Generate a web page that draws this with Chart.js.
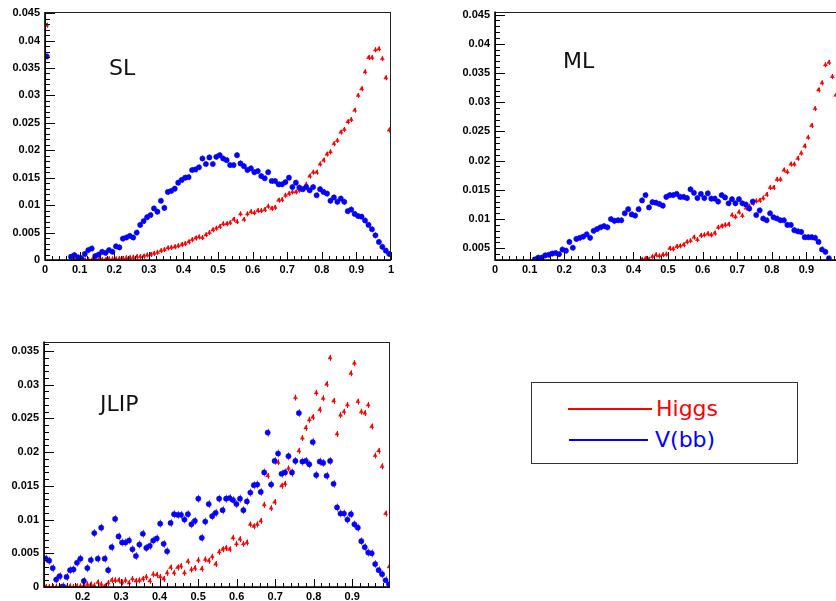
<!DOCTYPE html>
<html>
<head>
<meta charset="utf-8">
<script src="https://cdn.jsdelivr.net/npm/chart.js@4.4.1/dist/chart.umd.min.js"></script>
<style>
html, body { margin: 0; padding: 0; background: #fff; }
body { width: 836px; height: 601px; overflow: hidden; position: relative; }
canvas { position: absolute; }
.lbl { position: absolute; font-family: "DejaVu Sans", sans-serif; font-size: 22px; line-height: 1; color: #111; white-space: nowrap; }
#legend { position: absolute; left: 531px; top: 382px; width: 267px; height: 82px; box-sizing: border-box; border: 1px solid #333; }
#legend .line { position: absolute; height: 2px; }
#legend .txt { position: absolute; font-family: "DejaVu Sans", sans-serif; font-size: 22px; line-height: 1; white-space: nowrap; }
</style>
</head>
<body>
<canvas id="sl" width="400" height="280" style="left:0; top:0"></canvas>
<canvas id="ml" width="400" height="280" style="left:450px; top:0"></canvas>
<canvas id="jlip" width="400" height="271" style="left:0; top:330px"></canvas>

<div class="lbl" style="left:109px; top:57px">SL</div>
<div class="lbl" style="left:563px; top:50px">ML</div>
<div class="lbl" style="left:100px; top:393px">JLIP</div>

<div id="legend">
  <div class="line" style="left:36px; top:25px; width:84px; background:#ff0000"></div>
  <div class="txt" style="left:124px; top:15px; color:#ff0000">Higgs</div>
  <div class="line" style="left:37px; top:56px; width:79px; background:#0000ff"></div>
  <div class="txt" style="left:123px; top:46px; color:#0000ff">V(bb)</div>
</div>

<script>
// ---- SL : 100 bins on [0, 1]
const slXTicks = [0, 0.1, 0.2, 0.3, 0.4, 0.5, 0.6, 0.7, 0.8, 0.9, 1]
const slYTicks = [0, 0.005, 0.01, 0.015, 0.02, 0.025, 0.03, 0.035, 0.04, 0.045]
const slHiggs = [0.0428, null, null, null, null, null, null, null,
    0, 0, 0, 0, 0.0001, 0, 0.0001, 0.0001, 0.0001, 0.0001, 0.0002, 0.0002,
    0.0002, 0.0003, 0.0003, 0.0004, 0.0004, 0.0005, 0.0006, 0.0006, 0.0007, 0.0009,
    0.0010, 0.0012, 0.0014, 0.0017, 0.0019, 0.0022, 0.0023, 0.0024, 0.0026, 0.0028,
    0.0030, 0.0033, 0.0037, 0.0040, 0.0042, 0.0041, 0.0046, 0.0050,
    0.0055, 0.0058, 0.0061, 0.0066, 0.0066, 0.0068, 0.0074, 0.0070, 0.0084, 0.0074,
    0.0084, 0.0088, 0.0086, 0.0090, 0.0090, 0.0092, 0.0098, 0.0094, 0.0096, 0.0109,
    0.0110, 0.0118, 0.0121, 0.0124, 0.0124, 0.0127, 0.0129, 0.0138, 0.0153, 0.0160,
    0.0160, 0.0175, 0.0182, 0.0193, 0.0197, 0.0212, 0.0218, 0.0233, 0.0238, 0.0252,
    0.0256, 0.0273, 0.0300, 0.0312, 0.0343, 0.0369, 0.0369, 0.0383, 0.0385, 0.0367,
    0.0332, 0.0237]
const slVbb = [0.0371, null, null, null, null, null, null,
    0.0006, 0.0009, 0.0005, 0.0003, 0.0011, 0.0018, 0.0021, 0.0007, 0.0010, 0.0015,
    0.0013, 0.0018, 0.0015, 0.0025, 0.0023, 0.0039, 0.0041, 0.0044, 0.0041, 0.0050,
    0.0064, 0.0071, 0.0078, 0.0082, 0.0094, 0.0088, 0.0108, 0.0095, 0.0124, 0.0126,
    0.0130, 0.0141, 0.0146, 0.0150, 0.0151, 0.0164, 0.0165, 0.0169, 0.0185, 0.0175, 0.0187,
    0.0175, 0.0188, 0.0191, 0.0185, 0.0182, 0.0173, 0.0173, 0.0191, 0.0176, 0.0171,
    0.0164, 0.0167, 0.0160, 0.0162, 0.0153, 0.0149, 0.0160, 0.0144, 0.0144, 0.0138,
    0.0138, 0.0142, 0.0150, 0.0133, 0.0141, 0.0132, 0.0129, 0.0133, 0.0127, 0.0133,
    0.0118, 0.0129, 0.0124, 0.0121, 0.0108, 0.0114, 0.0106, 0.0112, 0.0106, 0.0089,
    0.0092, 0.0084, 0.0080, 0.0079, 0.0072, 0.0064, 0.0056, 0.0045, 0.0033, 0.0024,
    0.0017, 0.0011]

// ---- ML : 100 bins on [0, 1], axis starts at 0.003
const mlXTicks = [0, 0.1, 0.2, 0.3, 0.4, 0.5, 0.6, 0.7, 0.8, 0.9]
const mlYTicks = [0.005, 0.01, 0.015, 0.02, 0.025, 0.03, 0.035, 0.04, 0.045]
const mlHiggsFirstBin = 42
const mlHiggs = [0.0031, 0.0033, 0.0031, 0.0036, 0.0039, 0.0037, 0.0039, 0.0040,
    0.0050, 0.0049, 0.0053, 0.0054, 0.0056, 0.0061, 0.0063, 0.0069, 0.0065, 0.0072,
    0.0073, 0.0075, 0.0073, 0.0076, 0.0086, 0.0088, 0.0090, 0.0091, 0.0107, 0.0104,
    0.0112, 0.0106, 0.0119, 0.0122, 0.0127, 0.0131, 0.0132, 0.0136, 0.0142, 0.0154,
    0.0154, 0.0168, 0.0168, 0.0184, 0.0181, 0.0194, 0.0194, 0.0204, 0.0213, 0.0225,
    0.0240, 0.0260, 0.0289, 0.0321, 0.0333, 0.0364, 0.0368, 0.0344, 0.0312]
const mlVbbFirstBin = 11
const mlVbb = [0.0031, 0.0034, 0.0034, 0.0038, 0.0039, 0.0041, 0.0042, 0.0040, 0.0048,
    0.0046, 0.0061, 0.0051, 0.0066, 0.0068, 0.0070, 0.0074, 0.0068, 0.0080, 0.0083,
    0.0086, 0.0088, 0.0086, 0.0100, 0.0097, 0.0098, 0.0098, 0.0110, 0.0117, 0.0108,
    0.0106, 0.0117, 0.0132, 0.0141, 0.0120, 0.0129, 0.0128, 0.0126, 0.0123, 0.0138,
    0.0141, 0.0141, 0.0143, 0.0138, 0.0138, 0.0136, 0.0151, 0.0145, 0.0136, 0.0143,
    0.0136, 0.0144, 0.0135, 0.0135, 0.0130, 0.0141, 0.0137, 0.0127, 0.0134, 0.0127,
    0.0134, 0.0127, 0.0125, 0.0118, 0.0130, 0.0107, 0.0115, 0.0101, 0.0098, 0.0110,
    0.0103, 0.0101, 0.0098, 0.0098, 0.0090, 0.0090, 0.0081, 0.0079, 0.0078, 0.0069,
    0.0069, 0.0069, 0.0068, 0.0061, 0.0048, 0.0044, 0.0033]

// ---- JLIP : 100 bins of 0.009 starting at 0.1
const jlipXTicks = [0.2, 0.3, 0.4, 0.5, 0.6, 0.7, 0.8, 0.9]
const jlipYTicks = [0, 0.005, 0.01, 0.015, 0.02, 0.025, 0.03, 0.035]
const jlipHiggs = [0, 0, 0, 0, 0, 0, 0, 0.0001, 0, 0.0001,
    0.0001, 0.0002, 0.0004, 0.0004, 0.0002, 0.0007, 0.0004, 0.0001, 0.0006, 0.0010,
    0.0010, 0.0010, 0.0007, 0.0010, 0.0006, 0.0012, 0.0009, 0.0010, 0.0012, 0.0015,
    0.0009, 0.0019, 0.0018, 0.0015, 0.0012, 0.0021, 0.0029, 0.0021, 0.0029, 0.0031,
    0.0021, 0.0038, 0.0026, 0.0028, 0.0040, 0.0027, 0.0041, 0.0039,
    0.0045, 0.0034, 0.0052, 0.0056, 0.0058, 0.0056, 0.0073, 0.0064, 0.0071, 0.0064,
    0.0066, 0.0093, 0.0090, 0.0093, 0.0098, 0.0122, 0.0165, 0.0117, 0.0126, 0.0185,
    0.0150, 0.0153, 0.0176, 0.0168, 0.0281, 0.0202, 0.0221, 0.0236, 0.0248, 0.0252,
    0.0288, 0.0263, 0.0280, 0.0301, 0.0340, 0.0276, 0.0227, 0.0255, 0.0260, 0.0270,
    0.0317, 0.0332, 0.0275, 0.0260, 0.0258, 0.0270, 0.0238, 0.0195, 0.0202, 0.0179,
    0.0109, 0.0030]
const jlipVbb = [0.0042, 0.0039, 0.0028, 0.0011, 0.0016, 0.0001, 0.0015, 0.0025, 0.0026, 0.0036,
    0.0042, 0.0009, 0.0028, 0.0040, 0.0080, 0.0042, 0.0088, 0.0042, 0.0025, 0.0059,
    0.0101, 0.0075, 0.0066, 0.0066, 0.0069, 0.0056, 0.0046, 0.0063, 0.0079, 0.0058,
    0.0061, 0.0069, 0.0072, 0.0094, 0.0064, 0.0053, 0.0095, 0.0108, 0.0107, 0.0107,
    0.0100, 0.0108, 0.0093, 0.0098, 0.0131, 0.0073, 0.0097, 0.0123, 0.0105, 0.0110,
    0.0131, 0.0114, 0.0131, 0.0132, 0.0129, 0.0123, 0.0131, 0.0114, 0.0127, 0.0140,
    0.0151, 0.0152, 0.0141, 0.0170, 0.0229, 0.0152, 0.0187, 0.0198, 0.0168, 0.0170,
    0.0194, 0.0170, 0.0187, 0.0258, 0.0186, 0.0187, 0.0182, 0.0215, 0.0166, 0.0186,
    0.0184, 0.0165, 0.0187, 0.0153, 0.0118, 0.0109, 0.0109, 0.0100, 0.0108, 0.0093,
    0.0088, 0.0068, 0.0059, 0.0051, 0.0050, 0.0034, 0.0025, 0.0019, 0.0010, 0.0004]

const RED = '#ff0000'
const BLUE = '#0000ff'

// bin centres -> {x, y} points, empty bins dropped
function toPoints(values, xStart, binWidth, firstBin) {
    let pts = []
    values.forEach((v, i) => {
        if (v === null) return
        pts.push({ x: xStart + (firstBin + i + 0.5) * binWidth, y: v })
    })
    return pts
}

const fmt = v => String(Number(v.toFixed(3)))

// ROOT-ish look: error bars, inner ticks and frame
const rootFrame = {
    id: 'rootFrame',
    beforeDatasetsDraw(chart) {
        const ctx = chart.ctx, a = chart.chartArea
        ctx.save()
        ctx.beginPath()
        ctx.rect(a.left, a.top, a.right - a.left, a.bottom - a.top)
        ctx.clip()
        chart.data.datasets.forEach((ds, i) => {
            const meta = chart.getDatasetMeta(i)
            ctx.strokeStyle = ds.errColor
            ctx.lineWidth = 1
            meta.data.forEach(p => {
                ctx.beginPath()
                ctx.moveTo(Math.round(p.x) + 0.5, p.y - ds.errLen)
                ctx.lineTo(Math.round(p.x) + 0.5, p.y + ds.errLen)
                ctx.stroke()
            })
        })
        ctx.restore()
    },
    afterDraw(chart) {
        const ctx = chart.ctx, a = chart.chartArea
        const xs = chart.scales.x, ys = chart.scales.y
        ctx.save()
        ctx.strokeStyle = '#000'
        ctx.lineWidth = 1
        const drawTicks = (scale, horizontal, major, minor, majLen, minLen) => {
            const start = Math.ceil(scale.min / minor - 1e-6)
            const end = Math.floor(scale.max / minor + 1e-6)
            for (let k = start; k <= end; k++) {
                const v = k * minor
                const isMajor = Math.abs(v / major - Math.round(v / major)) < 1e-6
                const len = isMajor ? majLen : minLen
                const p = Math.round(scale.getPixelForValue(v)) + 0.5
                ctx.beginPath()
                if (horizontal) {
                    ctx.moveTo(p, a.bottom)
                    ctx.lineTo(p, a.bottom - len)
                } else {
                    ctx.moveTo(a.left, p)
                    ctx.lineTo(a.left + len, p)
                }
                ctx.stroke()
            }
        }
        drawTicks(xs, true, 0.1, 0.02, 8, 4)
        drawTicks(ys, false, 0.005, 0.001, 10, 5)
        // frame
        ctx.strokeStyle = '#222'
        ctx.strokeRect(Math.round(a.left) + 0.5, Math.round(a.top) + 0.5,
            Math.round(a.right - a.left) - 1, Math.round(a.bottom - a.top))
        ctx.lineWidth = 1.6
        ctx.strokeStyle = '#000'
        ctx.beginPath()
        ctx.moveTo(a.left, a.top)
        ctx.lineTo(a.left, a.bottom)
        ctx.lineTo(a.right, a.bottom)
        ctx.stroke()
        ctx.restore()
    }
}

function makePanel(id, p) {
    const tickFont = { family: 'Liberation Sans', weight: 'bold', size: 11 }
    return new Chart(document.getElementById(id).getContext('2d'), {
        type: 'scatter',
        data: {
            datasets: [{
                label: 'V(bb)',
                data: p.vbb,
                pointStyle: 'circle',
                pointRadius: 2.6,
                pointBackgroundColor: BLUE,
                pointBorderColor: BLUE,
                pointBorderWidth: 0.5,
                errColor: '#c040ff',
                errLen: p.errBlue
            }, {
                label: 'Higgs',
                data: p.higgs,
                pointStyle: 'triangle',
                pointRadius: 2.3,
                pointBackgroundColor: RED,
                pointBorderColor: RED,
                pointBorderWidth: 0.5,
                errColor: RED,
                errLen: p.errRed
            }]
        },
        options: {
            responsive: false,
            animation: false,
            devicePixelRatio: 1,
            layout: { padding: { top: p.padTop, right: p.padRight, left: 0, bottom: 0 } },
            plugins: { legend: { display: false }, tooltip: { enabled: false } },
            scales: {
                x: {
                    type: 'linear',
                    min: p.xMin,
                    max: p.xMax,
                    grid: { display: false, drawTicks: false },
                    border: { display: false },
                    afterFit: s => { s.height = p.xAxisH },
                    afterBuildTicks: s => { s.ticks = p.xTicks.map(v => ({ value: v })) },
                    ticks: { font: tickFont, color: '#000', padding: 3, autoSkip: false, maxRotation: 0, callback: v => fmt(v) }
                },
                y: {
                    type: 'linear',
                    min: p.yMin,
                    max: p.yMax,
                    grid: { display: false, drawTicks: false },
                    border: { display: false },
                    afterFit: s => { s.width = p.yAxisW },
                    afterBuildTicks: s => { s.ticks = p.yTicks.map(v => ({ value: v })) },
                    ticks: { font: tickFont, color: '#000', padding: 5, autoSkip: false, callback: v => fmt(v) }
                }
            }
        },
        plugins: [rootFrame]
    })
}

makePanel('sl', {
    higgs: toPoints(slHiggs, 0, 0.01, 0),
    vbb: toPoints(slVbb, 0, 0.01, 0),
    xTicks: slXTicks, yTicks: slYTicks,
    xMin: 0, xMax: 1, yMin: 0, yMax: 0.0452,
    padTop: 12, padRight: 9, xAxisH: 20, yAxisW: 45,
    errBlue: 3, errRed: 2.5
})

makePanel('ml', {
    higgs: toPoints(mlHiggs, 0, 0.01, mlHiggsFirstBin),
    vbb: toPoints(mlVbb, 0, 0.01, mlVbbFirstBin),
    xTicks: mlXTicks, yTicks: mlYTicks,
    xMin: 0, xMax: 1, yMin: 0.003, yMax: 0.0455,
    padTop: 11, padRight: 9, xAxisH: 20, yAxisW: 45,
    errBlue: 3, errRed: 2.5
})

makePanel('jlip', {
    higgs: toPoints(jlipHiggs, 0.1, 0.009, 0),
    vbb: toPoints(jlipVbb, 0.1, 0.009, 0),
    xTicks: jlipXTicks, yTicks: jlipYTicks,
    xMin: 0.1, xMax: 0.998, yMin: 0, yMax: 0.0364,
    padTop: 7, padRight: 10, xAxisH: 14, yAxisW: 44,
    errBlue: 4, errRed: 3
})
</script>
</body>
</html>
